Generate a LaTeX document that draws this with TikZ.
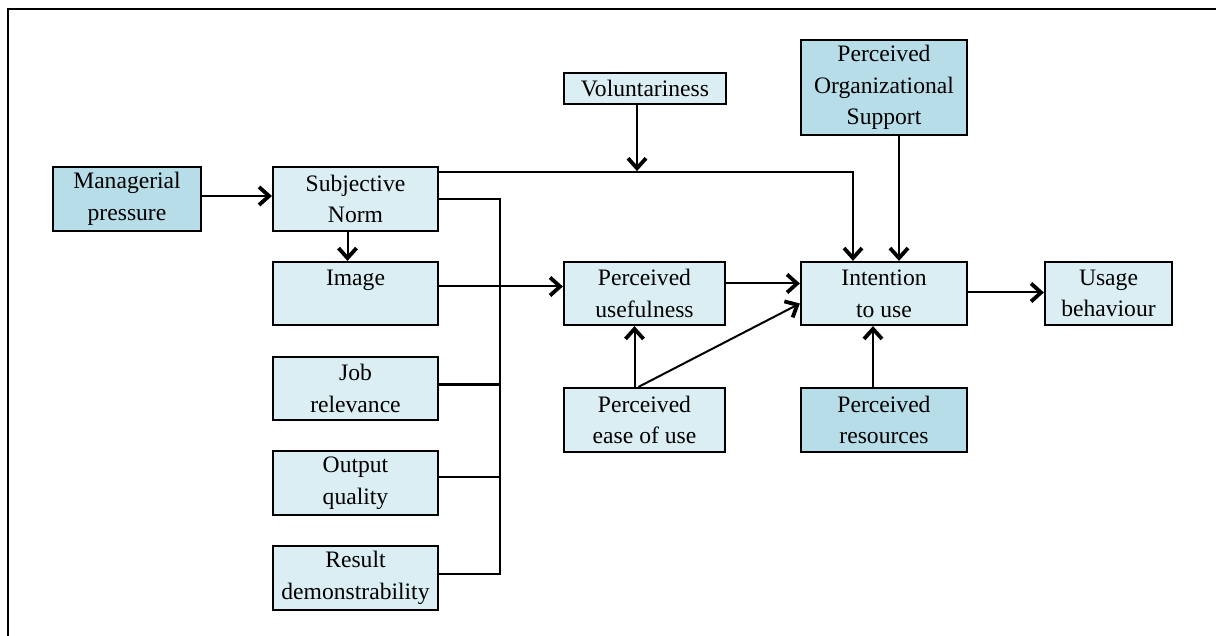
\documentclass[tikz,border=0pt]{standalone}
\usepackage{fontspec}
\setmainfont{Liberation Serif}
\usetikzlibrary{arrows.meta,calc}
\definecolor{lightc}{HTML}{DAEEF3}
\definecolor{darkc}{HTML}{B6DDE8}
\newcommand{\fs}{\fontsize{11.8}{15.85}\selectfont}
\tikzset{
  box/.style={draw, line width=1.1pt, align=center, inner sep=0pt, font=\fs},
  lt/.style={box, fill=lightc},
  dk/.style={box, fill=darkc},
  arr/.style={line width=1pt, -{Straight Barb[length=5pt,width=9pt,line width=1.9pt]}},
  ln/.style={line width=1pt}
}
\begin{document}
\begin{tikzpicture}[x=0.5pt,y=-0.5pt]
\useasboundingbox (0,0) rectangle (1216,636);
\draw[line width=1.3pt] (8,636) -- (8,9) -- (1216,9);
% nodes
\node[dk, minimum width=74pt, minimum height=32pt] (mp) at (127,199) {Managerial\\pressure};
\node[lt, minimum width=82.5pt, minimum height=32pt] (sn) at (355.5,199) {Subjective\\Norm};
\node[lt, minimum width=82.5pt, minimum height=31.5pt] (img) at (355.5,293.5) {Image\\~};
\node[lt, minimum width=82.5pt, minimum height=31.5pt] (jr) at (355.5,388.5) {Job\\relevance};
\node[lt, minimum width=82.5pt, minimum height=32pt] (oq) at (355.5,483) {Output\\quality};
\node[lt, minimum width=82.5pt, minimum height=32pt] (rd) at (355.5,578) {Result\\demonstrability};
\node[lt, minimum width=81pt, minimum height=15.5pt] (vol) at (645,88.5) {Voluntariness};
\node[dk, minimum width=83pt, minimum height=47.5pt] (pos) at (884,87.5) {Perceived\\Organizational\\Support};
\node[lt, minimum width=80.5pt, minimum height=31.5pt] (pu) at (644.5,293.5) {Perceived\\usefulness};
\node[lt, minimum width=83pt, minimum height=31.5pt] (itu) at (884,293.5) {Intention\\to use};
\node[lt, minimum width=63.5pt, minimum height=31.5pt] (ub) at (1108.5,293.5) {Usage\\behaviour};
\node[lt, minimum width=80.5pt, minimum height=32pt] (peou) at (644.5,420) {Perceived\\ease of use};
\node[dk, minimum width=83pt, minimum height=32pt] (pr) at (884,420) {Perceived\\resources};
% connectors
\draw[arr] ($(mp.east)+(0,-3)$) -- ($(sn.west)+(0,-3)$);
\draw[arr] ($(sn.south)+(-8,0)$) -- ($(img.north)+(-8,0)$);
\draw[arr] ($(sn.east)+(0,-27)$) -| ($(itu.north)+(-31,0)$);
\draw[arr] ($(vol.south)+(-8,0)$) -- ($(vol.south)+(-8,66)$);
\draw[arr] ($(pos.south)+(15,0)$) -- ($(itu.north)+(15,0)$);
\coordinate (bt) at (500,199);
\coordinate (bb) at (500,574);
\draw[ln] (sn.east) -- (bt) -- (bb) -- ($(rd.east)+(0,-4)$);
\draw[ln] ($(jr.east)+(0,-4)$) -- ($(jr.east)+(62,-4)$);
\draw[ln] ($(oq.east)+(0,-6)$) -- ($(oq.east)+(62,-6)$);
\draw[arr] ($(img.east)+(0,-7)$) -- ($(pu.west)+(0,-7)$);
\draw[arr] ($(pu.east)+(0,-10)$) -- ($(itu.west)+(0,-10)$);
\draw[arr] ($(peou.north)+(-10,0)$) -- ($(pu.south)+(-10,0)$);
\draw[arr] ($(peou.north)+(-6,0)$) -- ($(itu.west)+(0,10)$);
\draw[arr] ($(pr.north)+(-11,0)$) -- ($(itu.south)+(-11,0)$);
\draw[arr] ($(itu.east)+(0,-1)$) -- ($(ub.west)+(0,-1)$);
\end{tikzpicture}
\end{document}
